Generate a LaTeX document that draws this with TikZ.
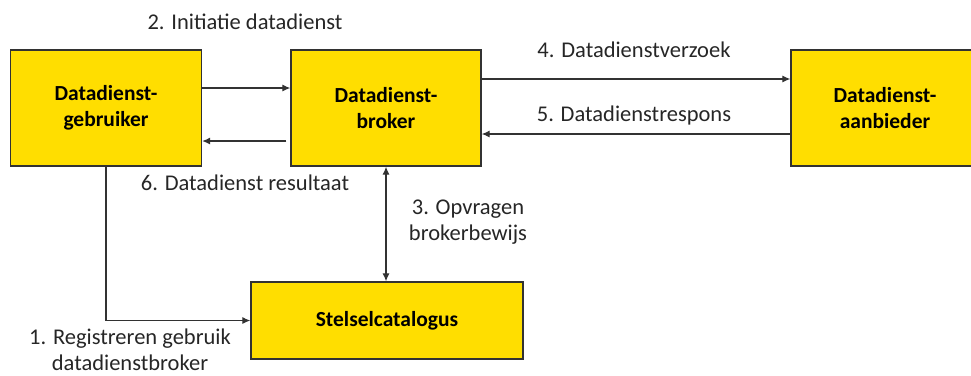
\documentclass[tikz,border=0pt]{standalone}
\usepackage{fontspec}
\setmainfont{Carlito}
\usetikzlibrary{positioning,arrows.meta,calc}
\definecolor{cBox} {RGB}{255,222,0}
\definecolor{cEdge}{RGB}{ 50, 50, 50}
\definecolor{cText}{RGB}{ 38, 38, 38}
\tikzset{
  actor/.style = {draw=cEdge, fill=cBox, line width=1.3pt, align=center,
                  font=\fontsize{21.5}{26}\selectfont\bfseries, text=black,
                  inner sep=0pt},
  flow/.style  = {-{Latex[length=8pt,width=7pt]}, cEdge, line width=1.2pt},
  both/.style  = {{Latex[length=8pt,width=7pt]}-{Latex[length=8pt,width=7pt]},
                  cEdge, line width=1.2pt},
  lbl/.style   = {font=\fontsize{22.5}{26}\selectfont, text=cText,
                  align=center, inner sep=0pt},
}

\begin{document}
\begin{tikzpicture}[x=1pt, y=-1pt]
  \useasboundingbox (0,0) rectangle (971,375);

  % ---- the four parties ----------------------------------------------
  \node[actor, minimum width=191pt, minimum height=116pt]
    (gebruiker) at (106,108) {Datadienst-\\gebruiker};
  \node[actor, minimum width=190pt, minimum height=116pt]
    (broker) at (386,108) {Datadienst-\\broker};
  % right edge falls outside the page, as in the original
  \node[actor, minimum width=188pt, minimum height=116pt]
    (aanbieder) at (885,108) {Datadienst-\\aanbieder};
  \node[actor, minimum width=272pt, minimum height=77pt]
    (stelsel) at (387,320.5) {Stelselcatalogus};

  % ---- messages --------------------------------------------------------
  \draw[flow] ([yshift=20pt]gebruiker.east) -- ([yshift=20pt]broker.west);
  \draw[flow, shorten <=4pt] ([yshift=-33pt]broker.west)
    -- ([yshift=-33pt]gebruiker.east);
  \draw[flow] ([yshift=29pt]broker.east) -- ([yshift=29pt]aanbieder.west);
  \draw[flow] ([yshift=-26pt]aanbieder.west) -- ([yshift=-26pt]broker.east);
  \draw[both] (broker.south) -- (broker.south |- stelsel.north);
  \draw[flow] (gebruiker.south) |- (stelsel.west);

  % ---- labels ----------------------------------------------------------
  \node[lbl] (l1) at (130,350) {1. Registreren gebruik\\datadienstbroker};
  \node[lbl] (l2) at (245,22)  {2. Initiatie datadienst};
  \node[lbl] (l3) at (468,222) {3. Opvragen\\brokerbewijs};
  \node[lbl] (l4) at (634,50)  {4. Datadienstverzoek};
  \node[lbl] (l5) at (634,115) {5. Datadienstrespons};
  \node[lbl] (l6) at (245,183) {6. Datadienst resultaat};

\end{tikzpicture}
\end{document}
